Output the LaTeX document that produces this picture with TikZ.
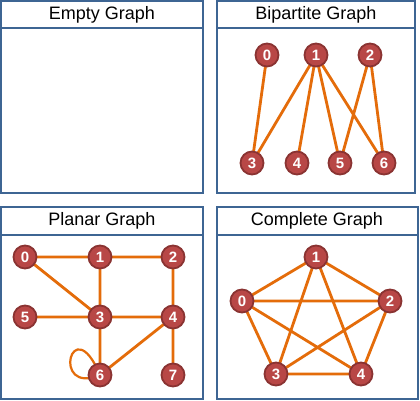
\documentclass[tikz,border=0pt]{standalone}
\usepackage{fontspec}
\setmainfont{Liberation Sans}
\definecolor{edgeor}{HTML}{E46C0A}
\definecolor{nodefill}{HTML}{B84746}
\definecolor{nodeborder}{HTML}{8A3332}
\definecolor{frame}{HTML}{3E6593}
\begin{document}
\begin{tikzpicture}[x=1pt,y=-1pt,
  vtx/.style={circle,fill=nodefill,draw=nodeborder,line width=1.8pt,minimum size=23pt,inner sep=0pt,text=white,font=\fontsize{15}{15}\selectfont\bfseries},
  edg/.style={draw=edgeor,line width=2.8pt},
  panel/.style={draw=frame,line width=1.8pt,fill=white},
  ttl/.style={font=\fontsize{18}{18}\selectfont}]
\useasboundingbox (0,0) rectangle (420,400);
\fill[white] (0,0) rectangle (420,400);
% panels
\draw[panel] (1,1) rectangle (203,193);
\draw[panel] (1,1) rectangle (203,28);
\node[ttl] (t1) at (102,15) {Empty Graph};
\draw[panel] (217,1) rectangle (415,193);
\draw[panel] (217,1) rectangle (415,28);
\node[ttl] (t2) at (316,15) {Bipartite Graph};
\draw[panel] (1,207) rectangle (203,399);
\draw[panel] (1,207) rectangle (203,235);
\node[ttl] (t3) at (102,221) {Planar Graph};
\draw[panel] (217,207) rectangle (418,399);
\draw[panel] (217,207) rectangle (418,235);
\node[ttl] (t4) at (317,221) {Complete Graph};
% bipartite
\coordinate (b0) at (267,55);
\coordinate (b1) at (316,55);
\coordinate (b2) at (370,55);
\coordinate (b3) at (252,163);
\coordinate (b4) at (297,163);
\coordinate (b5) at (340,163);
\coordinate (b6) at (384,163);
\path[edg] (b0)--(b3) (b1)--(b3) (b1)--(b4) (b1)--(b5) (b1)--(b6) (b2)--(b5) (b2)--(b6);
\foreach \n/\l in {b0/0,b1/1,b2/2,b3/3,b4/4,b5/5,b6/6} {\node[vtx] (n\n) at (\n) {\l};}
% planar
\coordinate (p0) at (25,257);
\coordinate (p1) at (100,257);
\coordinate (p2) at (173,257);
\coordinate (p5) at (25,317);
\coordinate (p3) at (100,317);
\coordinate (p4) at (173,317);
\coordinate (p6) at (100,375);
\coordinate (p7) at (173,375);
\path[edg] (p0)--(p1) (p1)--(p2) (p0)--(p3) (p1)--(p3) (p2)--(p4) (p5)--(p3)
  (p3)--(p4) (p3)--(p6) (p4)--(p6) (p4)--(p7);
\path[edg,line width=2.2pt] (p6) .. controls (50,396) and (72,308) .. (p6);
\foreach \n/\l in {p0/0,p1/1,p2/2,p3/3,p4/4,p5/5,p6/6,p7/7} {\node[vtx] (n\n) at (\n) {\l};}
% complete
\coordinate (c0) at (242,301);
\coordinate (c1) at (316,257);
\coordinate (c2) at (390,301);
\coordinate (c3) at (276,374);
\coordinate (c4) at (361,374);
\path[edg] (c0)--(c1) (c0)--(c2) (c0)--(c3) (c0)--(c4) (c1)--(c2) (c1)--(c3)
  (c1)--(c4) (c2)--(c3) (c2)--(c4) (c3)--(c4);
\foreach \n/\l in {c0/0,c1/1,c2/2,c3/3,c4/4} {\node[vtx] (n\n) at (\n) {\l};}
\end{tikzpicture}
\end{document}
